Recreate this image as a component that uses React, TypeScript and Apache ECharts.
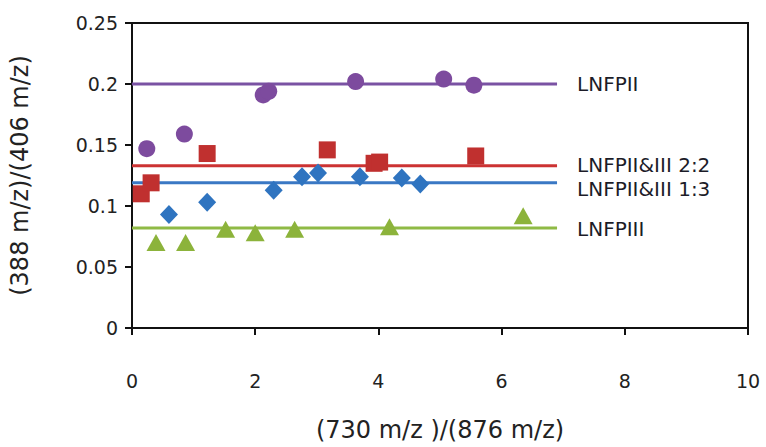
import React, { useEffect, useRef } from "react";
import * as echarts from "echarts";

const xTicks = [0, 2, 4, 6, 8, 10];
const yTicks = [0, 0.05, 0.1, 0.15, 0.2, 0.25];

const lnfpII: [number, number][] = [
  [0.24, 0.147], [0.85, 0.159], [2.13, 0.191], [2.22, 0.194],
  [3.63, 0.202], [5.06, 0.204], [5.55, 0.199],
];
const mix22: [number, number][] = [
  [0.15, 0.11], [0.31, 0.119], [1.22, 0.143], [3.17, 0.146],
  [3.93, 0.135], [4.02, 0.136], [5.58, 0.141],
];
const mix13: [number, number][] = [
  [0.6, 0.093], [1.22, 0.103], [2.3, 0.113], [2.76, 0.124],
  [3.02, 0.127], [3.7, 0.124], [4.38, 0.123], [4.68, 0.118],
];
const lnfpIII: [number, number][] = [
  [0.39, 0.07], [0.87, 0.07], [1.52, 0.081], [2.0, 0.078],
  [2.64, 0.081], [4.18, 0.083], [6.35, 0.092],
];

const lineNames = ["LNFPII", "LNFPII&III 2:2", "LNFPII&III 1:3", "LNFPIII"];
const lineLevels = [0.2, 0.133, 0.119, 0.082];
const lineEnd = 6.9;

const colors = ["#7d4b9e", "#c0302f", "#2f74c0", "#8cb33b"];
const lineColors = ["#7a52a3", "#cc3333", "#3a78c4", "#8fba45"];
const labelOffsets = [0, -1, 6, 1];

const FONT = "'DejaVu Sans', sans-serif";

export default function App() {
  const ref = useRef<HTMLDivElement>(null);
  useEffect(() => {
    if (!ref.current) return;
    const chart = echarts.init(ref.current, undefined, { renderer: "svg" });
    const lineSeries = lineNames.map((name, i) => ({
      type: "line",
      name,
      data: [[0, lineLevels[i]], [lineEnd, lineLevels[i]]],
      symbol: "none",
      lineStyle: { color: lineColors[i], width: 3 },
      z: 2,
      endLabel: {
        show: true,
        formatter: name,
        distance: 20,
        color: "#1c1c28",
        fontSize: 20,
        fontFamily: FONT,
        offset: [0, labelOffsets[i]],
      },
    }));
    const scat = (data: [number, number][], symbol: string, size: any, color: string) => ({
      type: "scatter",
      data,
      symbol,
      symbolSize: size,
      itemStyle: { color, opacity: 1 },
      z: 3,
    });
    chart.setOption({
      animation: false,
      backgroundColor: "#ffffff",
      grid: { left: 126, right: 18, top: 23, bottom: 108, show: true, borderColor: "#111", borderWidth: 2 },
      xAxis: {
        type: "value",
        min: 0,
        max: 10,
        interval: 2,
        name: "(730 m/z )/(876 m/z)",
        nameLocation: "middle",
        nameGap: 90,
        nameTextStyle: { fontSize: 24, color: "#222", fontFamily: FONT },
        axisLine: { show: true, lineStyle: { color: "#111", width: 2 } },
        axisTick: { show: true, inside: false, length: 7, lineStyle: { color: "#111", width: 2 } },
        axisLabel: {
          fontSize: 19,
          color: "#222",
          fontFamily: FONT,
          margin: 43,
          formatter: (v: number) => (xTicks.includes(v) ? String(v) : ""),
        },
        splitLine: { show: false },
      },
      yAxis: {
        type: "value",
        min: 0,
        max: 0.25,
        interval: 0.05,
        name: "(388 m/z)/(406 m/z)",
        nameLocation: "middle",
        nameGap: 100,
        nameTextStyle: { fontSize: 24, color: "#222", fontFamily: FONT },
        axisLine: { show: true, lineStyle: { color: "#111", width: 2 } },
        axisTick: { show: true, inside: false, length: 7, lineStyle: { color: "#111", width: 2 } },
        axisLabel: {
          fontSize: 19,
          color: "#222",
          fontFamily: FONT,
          margin: 14,
          formatter: (v: number) => {
            const t = yTicks.find((y) => Math.abs(y - v) < 1e-9);
            return t === undefined ? "" : String(t);
          },
        },
        splitLine: { show: false },
      },
      series: [
        ...lineSeries,
        scat(lnfpII, "circle", 17, colors[0]),
        scat(mix22, "rect", 17, colors[1]),
        scat(mix13, "diamond", [18, 19], colors[2]),
        scat(lnfpIII, "triangle", [19, 17], colors[3]),
      ],
    });
    return () => chart.dispose();
  }, []);
  return (
    <div
      ref={ref}
      style={{ position: "absolute", left: 0, top: 0, width: 766, height: 447 }}
    />
  );
}
